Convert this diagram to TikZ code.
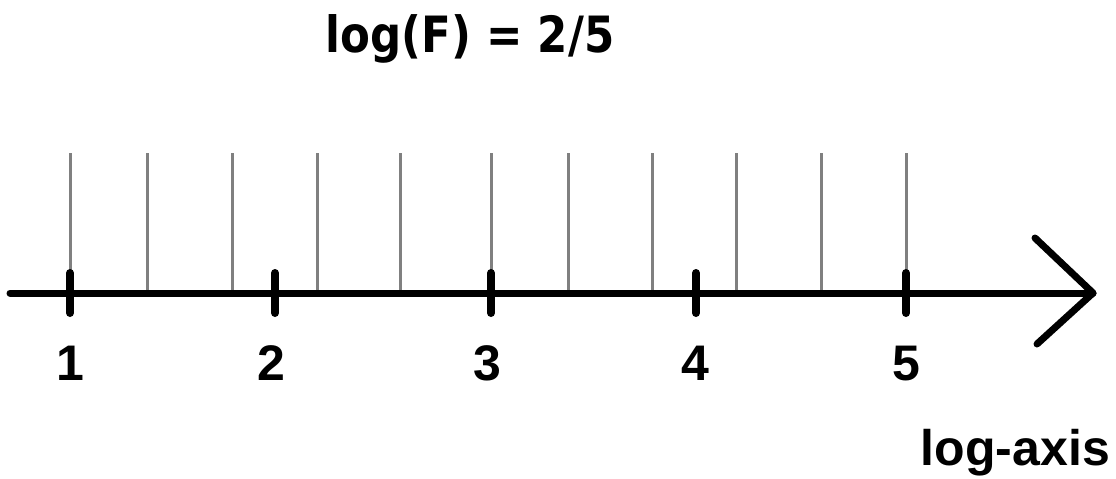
\documentclass[tikz,border=0pt]{standalone}
\usepackage{fontspec}
\setmainfont{Liberation Sans}
\newfontfamily\titlefont[FakeStretch=0.87]{DejaVu Sans}
\usetikzlibrary{positioning}
\tikzstyle{axisline} = [line width=7pt, line cap=round, line join=round]
\tikzstyle{grid} = [line width=3pt, draw=black!50]
\tikzstyle{tick} = [line width=8pt, line cap=round]
\tikzstyle{numlabel} = [font=\fontsize{50}{50}\selectfont\bfseries, inner sep=0pt, anchor=base]

\begin{document}
\begin{tikzpicture}[x=1pt, y=-1pt]
    \useasboundingbox (0,0) rectangle (1116,479);
    % title
    \node[font=\titlefont\fontsize{50}{50}\selectfont\bfseries, inner sep=0pt, anchor=base] (title) at (470,52) {log(F) = 2/5};
    % grid lines
    \foreach \gx in {70,147,232,317,400,491,568,652,736,821,906}
      \draw[grid] (\gx,153) -- (\gx,292);
    % axis
    \coordinate (start) at (10,293);
    \coordinate (tip) at (1093,293);
    \coordinate (upwing) at (1035,238);
    \coordinate (lowwing) at (1037,344);
    \draw[axisline] (start) -- (tip);
    \draw[axisline] (upwing) -- (tip) -- (lowwing);
    % ticks
    \draw[tick] (70,273) -- (70,313);
    \draw[tick] (275,273) -- (275,313);
    \draw[tick] (491,273) -- (491,313);
    \draw[tick] (696,273) -- (696,313);
    \draw[tick] (906,273) -- (906,313);
    % labels
    \node[numlabel] (n1) at (70,380) {1};
    \node[numlabel] (n2) at (271,380) {2};
    \node[numlabel] (n3) at (487,380) {3};
    \node[numlabel] (n4) at (695,380) {4};
    \node[numlabel] (n5) at (906,380) {5};
    \node[numlabel, anchor=base east] (axislabel) at (1110,465) {log-axis};
  \end{tikzpicture}
\end{document}
